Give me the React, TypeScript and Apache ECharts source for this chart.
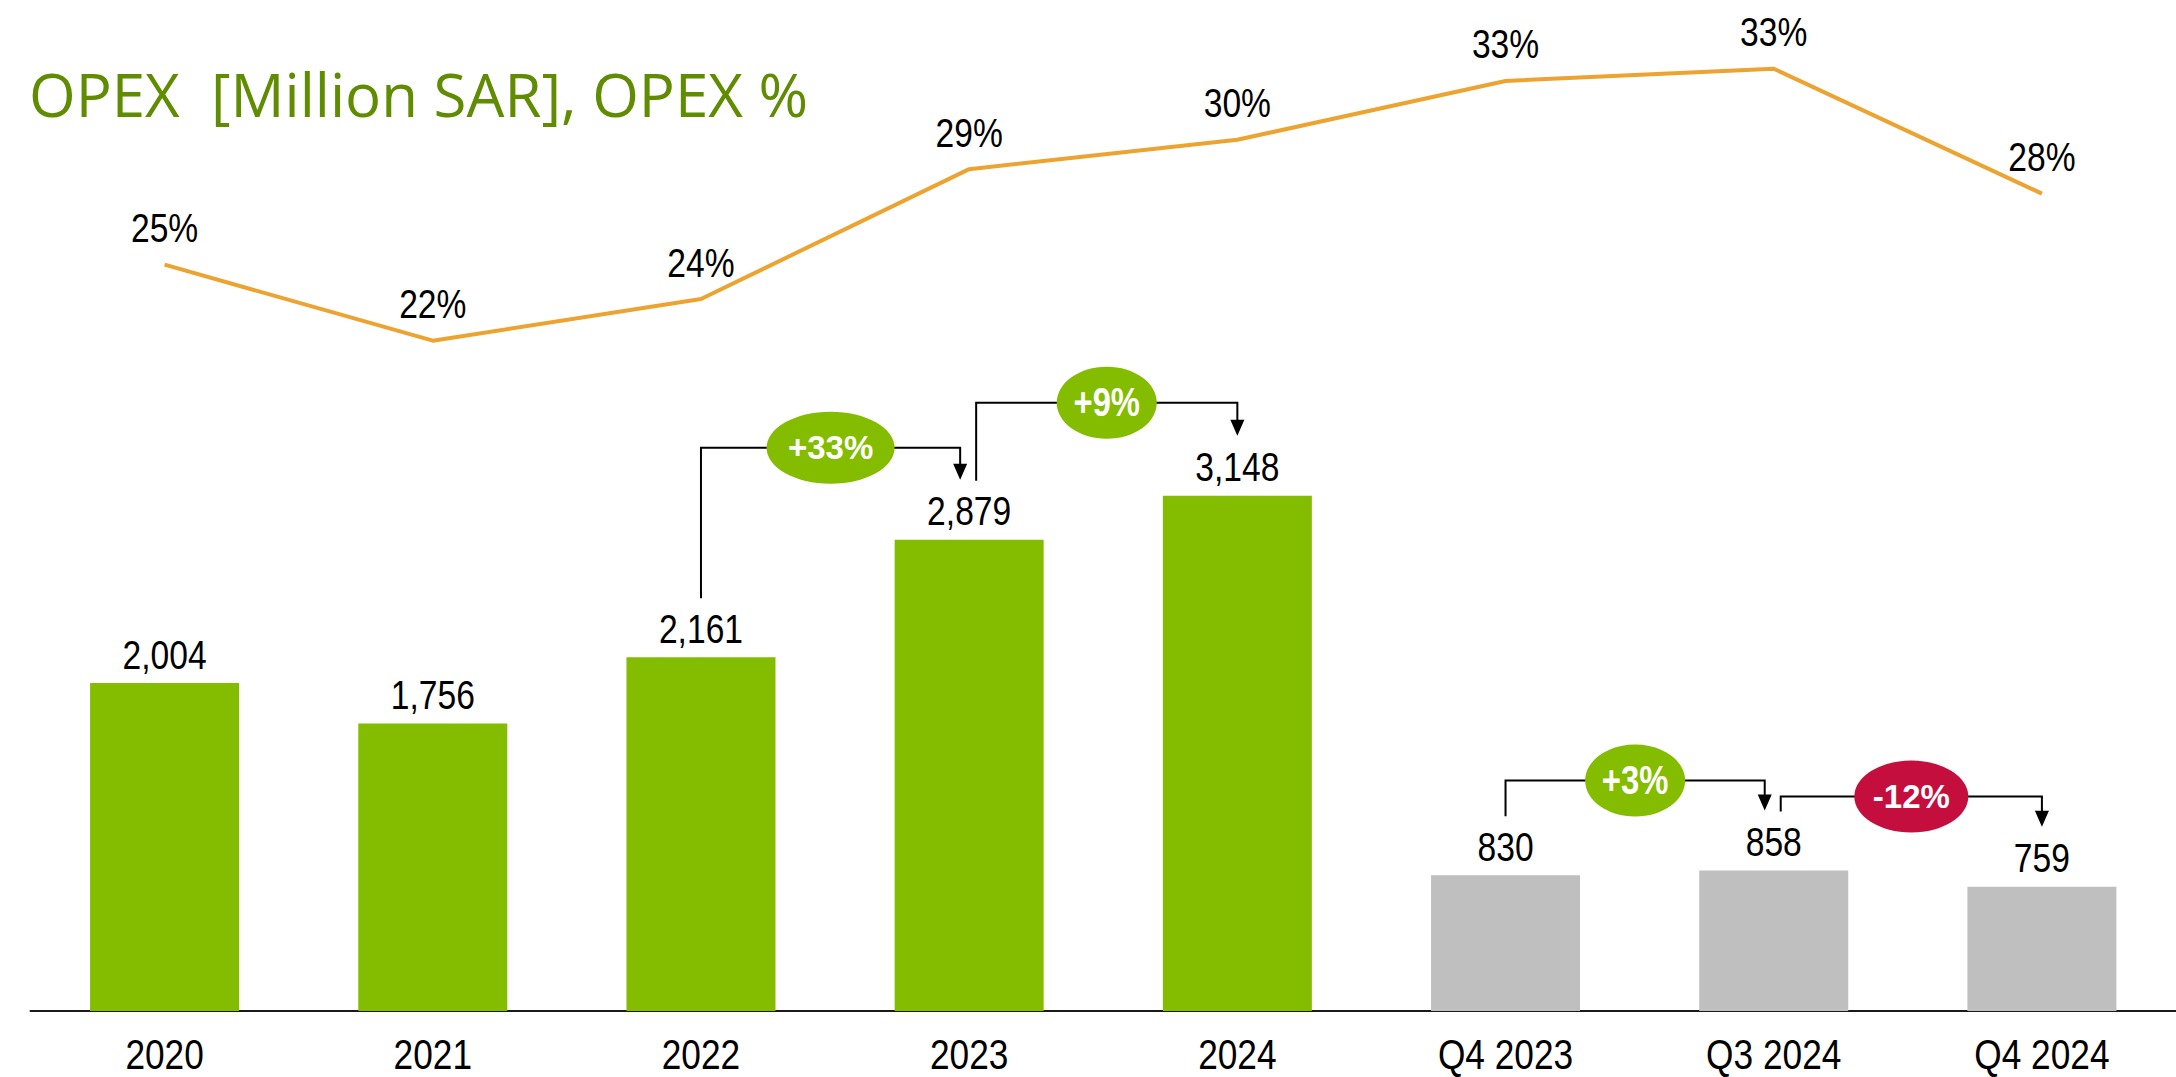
import React, { useEffect, useRef } from "react";
import * as echarts from "echarts";

// ---- data ----
const categories = ["2020", "2021", "2022", "2023", "2024", "Q4 2023", "Q3 2024", "Q4 2024"];
const opexValues = [2004, 1756, 2161, 2879, 3148, 830, 858, 759];
const opexPct = [25.1, 22.0, 23.7, 29.0, 30.2, 32.6, 33.1, 28.0];
const growthFrom = [2, 3, 5, 6];
const growthTo = [3, 4, 6, 7];
const growthLabels = ["+33%", "+9%", "+3%", "-12%"];
const titleText = "OPEX  [Million SAR], OPEX %";

// ---- styles ----
const GREEN = "#84BC00";
const GREY = "#BFBFBF";
const ORANGE = "#ECA330";
const RED = "#C40F3E";
const TITLE_GREEN = "#5F8C00";
const SANS = '"Liberation Sans", Arial, sans-serif';
const NARROW_SCALE = 0.82; // emulate Arial Narrow with a horizontally condensed Arial metric font
const annLift = [92, 93, 90, 74];
const annRx = [64, 50, 50, 57];
const annFontSize = [33, 40, 40, 33];
const annScale = [1, NARROW_SCALE, NARROW_SCALE, 1];

function narrowText(x: number, y: number, text: string, fontSize: number, extra: any = {}) {
  return {
    type: "text",
    x,
    y,
    scaleX: extra.scaleX ?? NARROW_SCALE,
    z: extra.z ?? 20,
    style: {
      text,
      fill: extra.fill ?? "#000",
      fontSize,
      fontWeight: extra.fontWeight ?? "normal",
      fontFamily: SANS,
      align: "center",
      verticalAlign: "middle",
    },
  };
}

export default function App() {
  const ref = useRef<HTMLDivElement>(null);

  useEffect(() => {
    if (!ref.current) return;
    const chart = echarts.init(ref.current, null, { renderer: "svg" });
    const option: any = {
      animation: false,
      grid: { left: 30.5, right: -6.5, top: 29, bottom: 66, containLabel: false },
      xAxis: {
        type: "category",
        data: categories,
        axisTick: { show: false },
        axisLine: { show: true, lineStyle: { color: "#1a1a1a", width: 2 } },
        axisLabel: { show: false },
      },
      yAxis: [
        { type: "value", min: 0, max: 6000, show: false },
        { type: "value", min: -5.36, max: 34.72, show: false },
      ],
      series: [
        {
          type: "bar",
          data: opexValues.map((v, i) => ({
            value: v,
            itemStyle: { color: categories[i].startsWith("Q") ? GREY : GREEN },
          })),
          barWidth: 149,
        },
        {
          type: "line",
          yAxisIndex: 1,
          data: opexPct,
          symbol: "none",
          lineStyle: { color: ORANGE, width: 4 },
        },
      ],
    };
    chart.setOption(option);

    const graphics: any[] = [
      {
        type: "text",
        x: 29,
        y: 94,
        style: {
          text: titleText,
          fill: TITLE_GREEN,
          fontSize: 60,
          fontFamily: '"Open Sans", sans-serif',
          align: "left",
          verticalAlign: "middle",
        },
      },
    ];

    const axisY = chart.convertToPixel({ yAxisIndex: 0 }, 0) as number;

    categories.forEach((c, i) => {
      const pBar = chart.convertToPixel({ seriesIndex: 0 }, [i, opexValues[i]]) as number[];
      const pLine = chart.convertToPixel({ seriesIndex: 1 }, [i, opexPct[i]]) as number[];
      // category label
      graphics.push(narrowText(pBar[0], axisY + 42.5, c, 43));
      // bar value label
      graphics.push(narrowText(pBar[0], pBar[1] - 28.7, opexValues[i].toLocaleString("en-US"), 41));
      // percent label
      graphics.push(narrowText(pLine[0], pLine[1] - 36.7, Math.round(opexPct[i]) + "%", 41));
    });

    growthFrom.forEach((fi, k) => {
      const ti = growthTo[k];
      const pFrom = chart.convertToPixel({ seriesIndex: 0 }, [fi, opexValues[fi]]) as number[];
      const pTo = chart.convertToPixel({ seriesIndex: 0 }, [ti, opexValues[ti]]) as number[];
      const fromIsTarget = growthTo.includes(fi);
      const toIsSource = growthFrom.includes(ti);
      const lx = pFrom[0] + (fromIsTarget ? 7 : 0);
      const rx = pTo[0] - (toIsSource ? 9 : 0);
      const startY = pFrom[1] - 59;
      const levelY = Math.min(pFrom[1], pTo[1]) - annLift[k];
      const tipY = pTo[1] - 60;
      const negative = growthLabels[k].startsWith("-");
      graphics.push({
        type: "polyline",
        shape: { points: [[lx, startY], [lx, levelY], [rx, levelY], [rx, tipY - 14]] },
        style: { stroke: "#000", lineWidth: 2, fill: null },
        z: 10,
      });
      graphics.push({
        type: "polygon",
        shape: { points: [[rx - 7, tipY - 16], [rx + 7, tipY - 16], [rx, tipY]] },
        style: { fill: "#000" },
        z: 10,
      });
      graphics.push({
        type: "ellipse",
        shape: { cx: (lx + rx) / 2, cy: levelY, rx: annRx[k], ry: 36 },
        style: { fill: negative ? RED : GREEN },
        z: 11,
      });
      graphics.push(
        narrowText((lx + rx) / 2, levelY, growthLabels[k], annFontSize[k], {
          scaleX: annScale[k],
          fill: "#fff",
          fontWeight: "bold",
          z: 12,
        })
      );
    });

    chart.setOption({ graphic: graphics });
    return () => chart.dispose();
  }, []);

  return (
    <div
      ref={ref}
      style={{ position: "absolute", left: 0, top: 0, width: 2176, height: 1077, background: "#fff" }}
    />
  );
}
